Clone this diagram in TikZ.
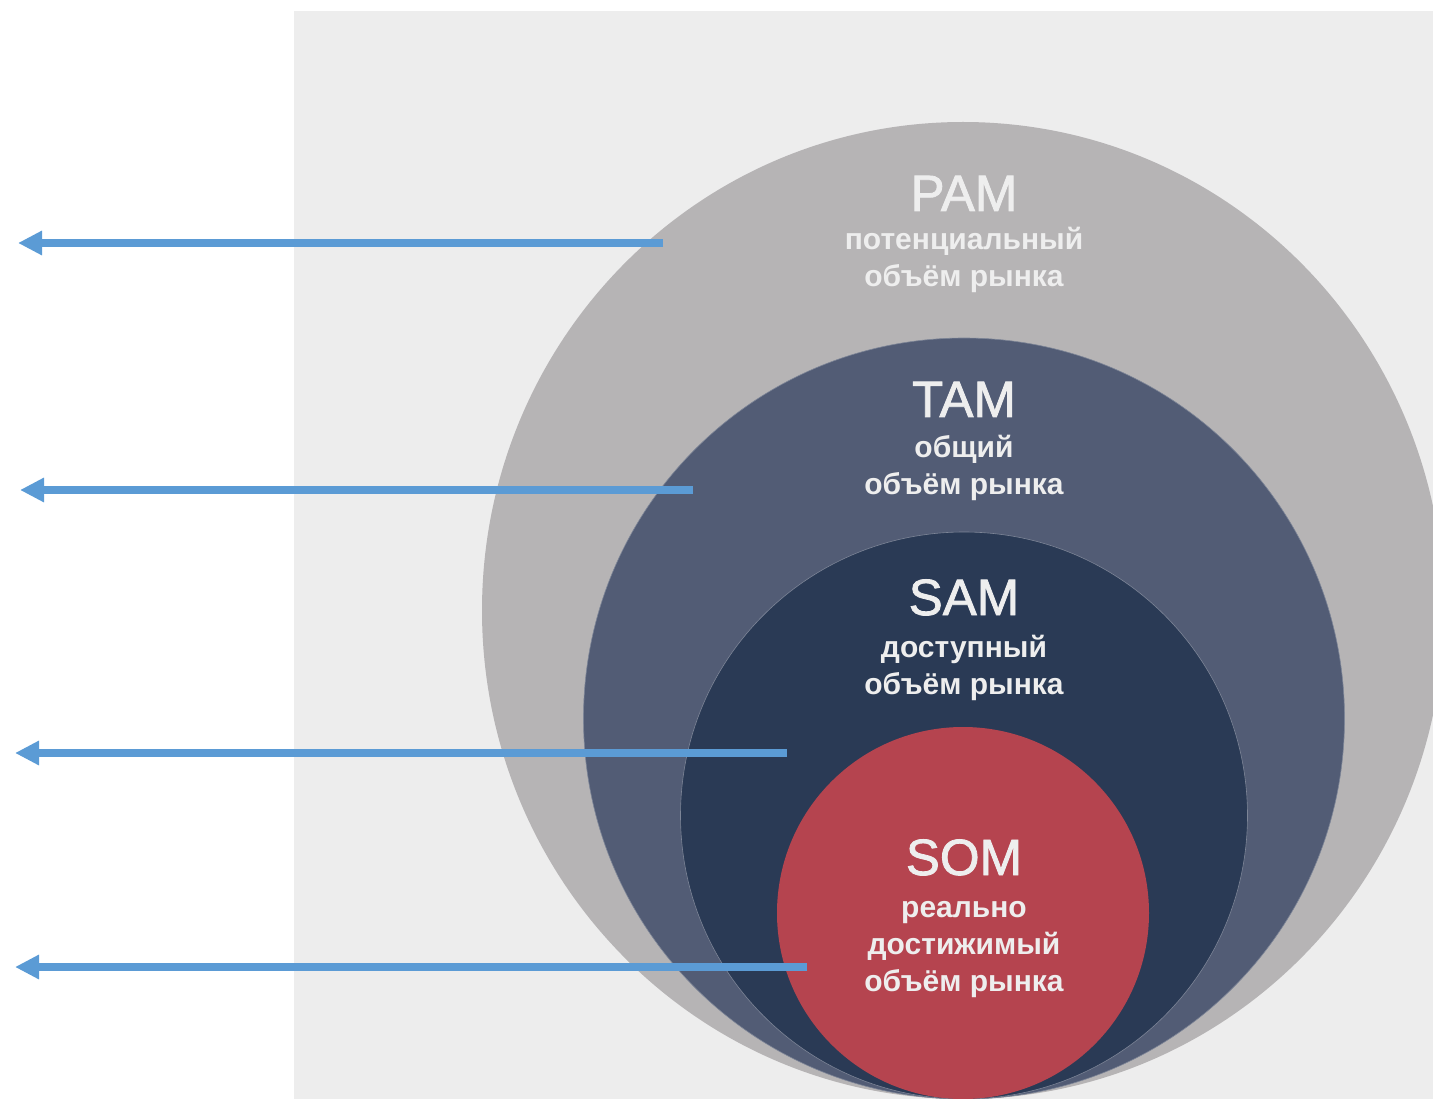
\documentclass[tikz,border=0pt]{standalone}
\usepackage{fontspec}
\setmainfont{Liberation Sans}
\newfontfamily\titlefont{Liberation Sans}[FakeBold=1.6]
\usetikzlibrary{arrows.meta}
\definecolor{bggray}{HTML}{EDEDED}
\definecolor{pamgray}{HTML}{B6B4B5}
\definecolor{tamblue}{HTML}{525C75}
\definecolor{samblue}{HTML}{2A3A55}
\definecolor{somred}{HTML}{B5444F}
\definecolor{txtgray}{HTML}{EEEEEE}
\definecolor{arrblue}{HTML}{5B9BD5}
\begin{document}
\begin{tikzpicture}[x=1pt, y=-1pt,
  title/.style={text=txtgray, font=\titlefont\fontsize{51}{51}\selectfont, anchor=base, inner sep=0pt},
  sub/.style={text=txtgray, font=\fontsize{30}{37}\selectfont\bfseries, align=center, anchor=base, inner sep=0pt},
  arr/.style={draw=arrblue, line width=7.5pt, -{Triangle[length=24pt, width=23pt]}},
  rim/.style={draw=#1!75!white, line width=0.6pt}]
\useasboundingbox (0,0) rectangle (1433,1099);
\clip (0,0) rectangle (1433,1099);
\fill[bggray] (294,11) rectangle (1433,1099);
\fill[pamgray] (963,610.5) ellipse [x radius=481, y radius=488.5];
\fill[tamblue, rim=tamblue] (964,718.5) circle [radius=380.5];
\fill[samblue, rim=tamblue] (964,815.5) circle [radius=283.5];
\fill[somred] (963,913) circle [radius=186];
\coordinate (pamA) at (663,243);
\coordinate (pamE) at (18,243);
\coordinate (tamA) at (693,490);
\coordinate (tamE) at (20,490);
\coordinate (samA) at (787,753);
\coordinate (samE) at (15,753);
\coordinate (somA) at (807,967);
\coordinate (somE) at (15,967);
\draw[arr] (pamA) -- (pamE);
\draw[arr] (tamA) -- (tamE);
\draw[arr] (samA) -- (samE);
\draw[arr] (somA) -- (somE);
\node[title] (pamT) at (964,211) {PAM};
\node[sub] (pamS) at (964,287) {потенциальный\\объём рынка};
\node[title] (tamT) at (964,417) {TAM};
\node[sub] (tamS) at (964,494) {общий\\объём рынка};
\node[title] (samT) at (964,615) {SAM};
\node[sub] (samS) at (964,694) {доступный\\объём рынка};
\node[title] (somT) at (964,875) {SOM};
\node[sub] (somS) at (964,991) {реально\\достижимый\\объём рынка};
\end{tikzpicture}
\end{document}
